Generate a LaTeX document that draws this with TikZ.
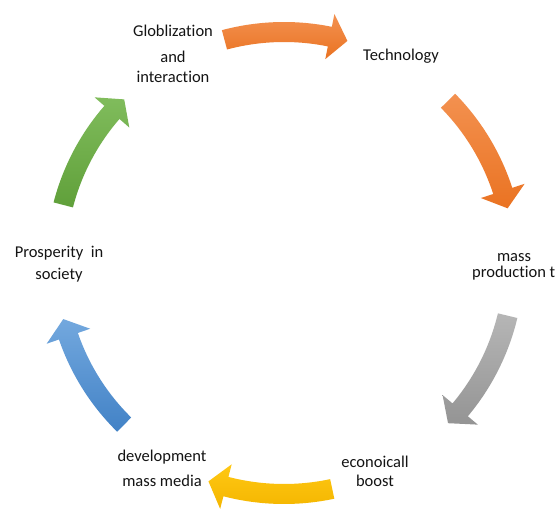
\documentclass[tikz,border=0pt]{standalone}
\usepackage{fontspec}
\setmainfont{Carlito}[Ligatures=NoCommon]
\definecolor{oL}{RGB}{243,145,80}
\definecolor{oD}{RGB}{234,115,34}
\definecolor{gL}{RGB}{182,182,182}
\definecolor{gD}{RGB}{148,148,148}
\definecolor{yL}{RGB}{255,200,20}
\definecolor{yD}{RGB}{244,182,0}
\definecolor{bL}{RGB}{115,168,222}
\definecolor{bD}{RGB}{66,130,198}
\definecolor{grL}{RGB}{128,188,92}
\definecolor{grD}{RGB}{96,160,58}
\newcommand\cycarrow[4]{%
 \pgfmathsetmacro\aT{#1+15.5}%
 \pgfmathsetmacro\aB{#1-11}%
 \pgfmathsetmacro\aP{#1-15.5}%
 \pgfmathsetmacro\rO{#2+10}%
 \pgfmathsetmacro\rI{#2-10}%
 \pgfmathsetmacro\hO{#2+23}%
 \pgfmathsetmacro\hI{#2-23}%
 \shade[top color=#3, bottom color=#4]
  (\aT:\rO) arc[start angle=\aT, end angle=\aB, radius=\rO]
  -- (\aB:\hO) -- (\aP:#2) -- (\aB:\hI) -- (\aB:\rI)
  arc[start angle=\aB, end angle=\aT, radius=\rI] -- cycle;
}
\begin{document}
\begin{tikzpicture}[x=1pt,y=1pt,
  lbl/.style={inner sep=0pt, anchor=base, font=\fontsize{16.5}{20}\selectfont, text=black!92}]
\useasboundingbox (0,0) rectangle (558,517);
\fill[white] (0,0) rectangle (558,517);
\begin{scope}[shift={(284,255)}]
 \cycarrow{89.5}{230}{oL}{oD}
 \cycarrow{29}{230}{oL}{oD}
 \cycarrow{-29}{230}{gL}{gD}
 \cycarrow{-93.5}{232}{yL}{yD}
 \cycarrow{-150}{228}{bL}{bD}
 \cycarrow{150}{228}{grL}{grD}
\end{scope}
\node[lbl] (g1) at (173,480) {Globlization};
\node[lbl] (g2) at (173,454) {and};
\node[lbl] (g3) at (173,434) {interaction};
\node[lbl] (tech) at (401,456) {Technology};
\node[lbl] (m1) at (514,255) {mass};
\node[lbl, anchor=base west] (m2) at (472,239) {production t};
\node[lbl] (e1) at (375,49) {econoicall};
\node[lbl] (e2) at (375,30) {boost};
\node[lbl] (d1) at (162,55) {development};
\node[lbl] (d2) at (162,30) {mass media};
\node[lbl] (p1) at (59,259) {Prosperity\ \ in};
\node[lbl] (p2) at (59,237) {society};
\end{tikzpicture}
\end{document}
